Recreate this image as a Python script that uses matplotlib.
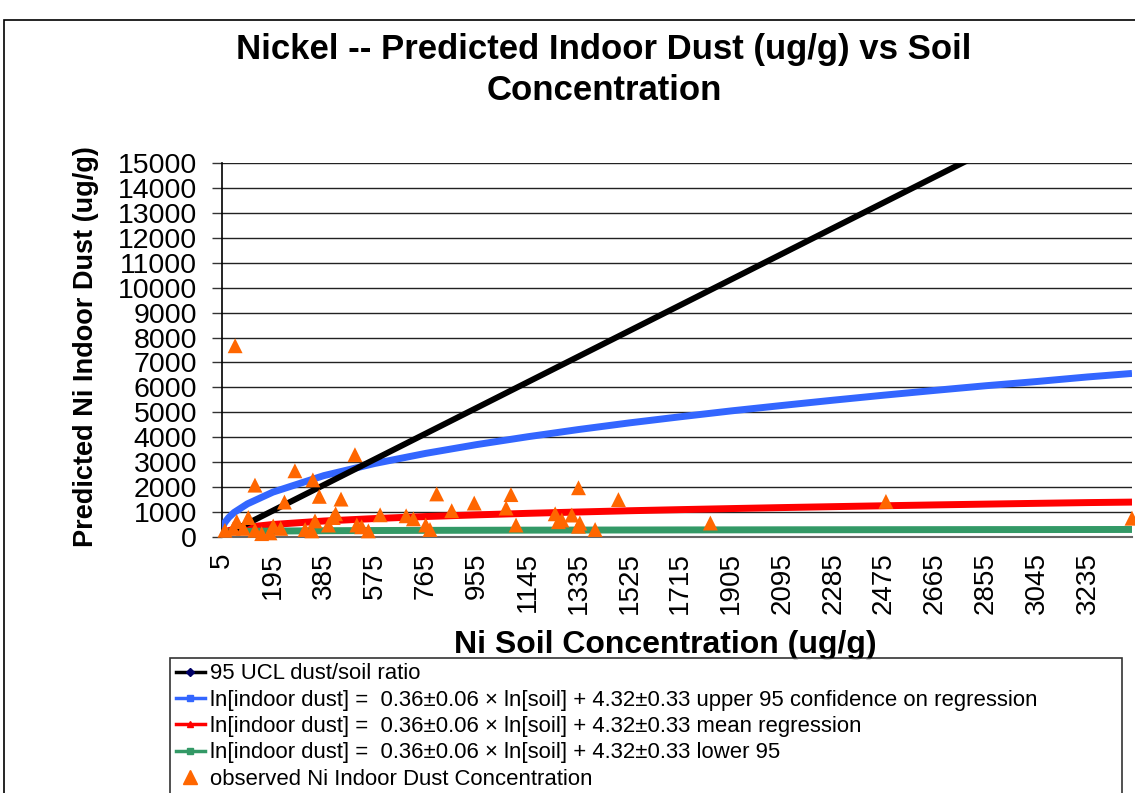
import matplotlib
matplotlib.use("Agg")
import matplotlib.pyplot as plt
from matplotlib.lines import Line2D

# ---------------- data ----------------
x_ticks = [5, 195, 385, 575, 765, 955, 1145, 1335, 1525, 1715, 1905,
           2095, 2285, 2475, 2665, 2855, 3045, 3235]
y_ticks = list(range(0, 15001, 1000))

# 95 UCL dust/soil ratio (straight line)
ucl_x = [5, 1145, 2285, 3400]
ucl_y = [27, 6210, 12390, 18430]

curve_x = [5, 15, 30, 50, 100, 195, 385, 575, 765, 955, 1145, 1335, 1525,
           1715, 1905, 2095, 2285, 2475, 2665, 2855, 3045, 3235, 3400]
upper_y = [345, 572, 781, 983, 1330, 1800, 2462, 2949, 3354, 3706, 4020,
           4310, 4577, 4822, 5058, 5276, 5487, 5689, 5881, 6067, 6236, 6420, 6560]
mean_y = [134, 199, 256, 307, 395, 502, 641, 740, 821, 888, 949, 1003,
          1053, 1098, 1140, 1180, 1217, 1253, 1287, 1319, 1350, 1380, 1400]
lower_y = [180, 195, 205, 213, 225, 238, 252, 260, 266, 271, 275, 278,
           281, 284, 286, 289, 291, 293, 295, 297, 298, 300, 302]

obs_x = [54, 501, 277, 128, 344, 238, 368, 449, 103, 60, 16, 47, 85, 128,
         153, 196, 224, 184, 315, 352, 340, 402, 420, 429, 508, 551, 526,
         595, 806, 946, 1083, 1065, 862, 692, 719, 765, 781, 1102, 1248,
         1260, 1335, 1484, 1273, 1310, 1335, 1340, 1397, 1827, 2482, 3400]
obs_y = [7670, 3300, 2655, 2080, 2290, 1400, 1630, 1520, 780, 620, 270, 345,
         345, 270, 135, 440, 345, 165, 300, 645, 245, 480, 780, 930, 480,
         245, 410, 890, 1727, 1360, 1700, 1160, 1055, 850, 727, 480, 300,
         480, 930, 615, 1975, 1500, 680, 880, 430, 560, 300, 560, 1427, 753]

labels = [
    "95 UCL dust/soil ratio",
    "ln[indoor dust] =  0.36\u00b10.06 \u00d7 ln[soil] + 4.32\u00b10.33 upper 95 confidence on regression",
    "ln[indoor dust] =  0.36\u00b10.06 \u00d7 ln[soil] + 4.32\u00b10.33 mean regression",
    "ln[indoor dust] =  0.36\u00b10.06 \u00d7 ln[soil] + 4.32\u00b10.33 lower 95",
    "observed Ni Indoor Dust Concentration",
]

# ---------------- figure ----------------
W, H = 1135, 793
plt.rcParams['font.family'] = ['Liberation Sans', 'DejaVu Sans']
fig = plt.figure(figsize=(W / 100, H / 100), dpi=100)


def fx(x):
    return x / W


def fy(y):
    return 1 - y / H


# chart border
fig.patches.append(plt.Rectangle((fx(4), fy(800)), fx(1140) - fx(4), fy(20) - fy(800),
                                 transform=fig.transFigure, fill=False,
                                 edgecolor='black', linewidth=1.2))

left, right, top, bottom = 222, 1132, 163, 537
ax = fig.add_axes([fx(left), fy(bottom), fx(right - left), (bottom - top) / H])

C_BLACK = '#000000'
C_BLUE = '#3366FF'
C_RED = '#FF0000'
C_GREEN = '#339966'
C_ORANGE = '#FF6600'

ax.plot(curve_x, upper_y, color=C_BLUE, lw=5, solid_capstyle='butt', zorder=3)
ax.plot(ucl_x, ucl_y, color=C_BLACK, lw=4.3, solid_capstyle='butt', zorder=4)
ax.plot(curve_x, mean_y, color=C_RED, lw=5, solid_capstyle='butt', zorder=3)
ax.plot(curve_x, lower_y, color=C_GREEN, lw=5, solid_capstyle='butt', zorder=3)
ax.scatter(obs_x, obs_y, marker='^', s=115, color=C_ORANGE, edgecolors='none',
           zorder=5, clip_on=False)

ax.set_xlim(5, 3400)
ax.set_ylim(0, 15000)
ax.set_xticks(x_ticks)
ax.set_xticklabels([str(v) for v in x_ticks], rotation=90, fontsize=20)
ax.set_yticks(y_ticks)
ax.set_yticklabels([str(v) for v in y_ticks], fontsize=20.5)
ax.yaxis.grid(True, color='#222222', linewidth=1.0)
ax.set_axisbelow(True)
for s in ['top', 'right']:
    ax.spines[s].set_visible(False)
ax.spines['left'].set_color('black')
ax.spines['left'].set_linewidth(1.2)
ax.spines['bottom'].set_color('#666666')
ax.spines['bottom'].set_linewidth(1.5)
ax.tick_params(axis='y', length=7, width=1, color='#333333', pad=11)
ax.tick_params(axis='x', length=0, pad=11)

# titles and axis labels
fig.text(fx(604), fy(50), "Nickel -- Predicted Indoor Dust (ug/g) vs Soil",
         ha='center', va='center', fontsize=25, fontweight='bold')
fig.text(fx(604), fy(91), "Concentration",
         ha='center', va='center', fontsize=25, fontweight='bold')
fig.text(fx(86), fy(347), "Predicted Ni Indoor Dust (ug/g)", rotation=90,
         ha='center', va='center', fontsize=19.5, fontweight='bold')
fig.text(fx(665), fy(645), "Ni Soil Concentration (ug/g)",
         ha='center', va='center', fontsize=23, fontweight='bold')

# legend
handles = [
    Line2D([], [], color=C_BLACK, lw=2.5, marker='D', ms=4, mfc='#000066', mec='#000066'),
    Line2D([], [], color=C_BLUE, lw=2.5, marker='s', ms=4, mfc=C_BLUE, mec=C_BLUE),
    Line2D([], [], color=C_RED, lw=2.5, marker='^', ms=5, mfc=C_RED, mec=C_RED),
    Line2D([], [], color=C_GREEN, lw=2.5, marker='s', ms=4, mfc=C_GREEN, mec=C_GREEN),
    Line2D([], [], color='none', marker='^', ms=10, mfc=C_ORANGE, mec=C_ORANGE),
]
leg = fig.legend(handles, labels, loc='upper left',
                 bbox_to_anchor=(fx(170), fy(658), fx(1122) - fx(170), 0.0001),
                 mode='expand', fontsize=15.9, frameon=True, fancybox=False,
                 edgecolor='black', handlelength=1.35, handletextpad=0.2,
                 labelspacing=0.24, borderpad=0.25, borderaxespad=0.0)
leg.get_frame().set_linewidth(1.2)

fig.savefig("out.png", dpi=100)
